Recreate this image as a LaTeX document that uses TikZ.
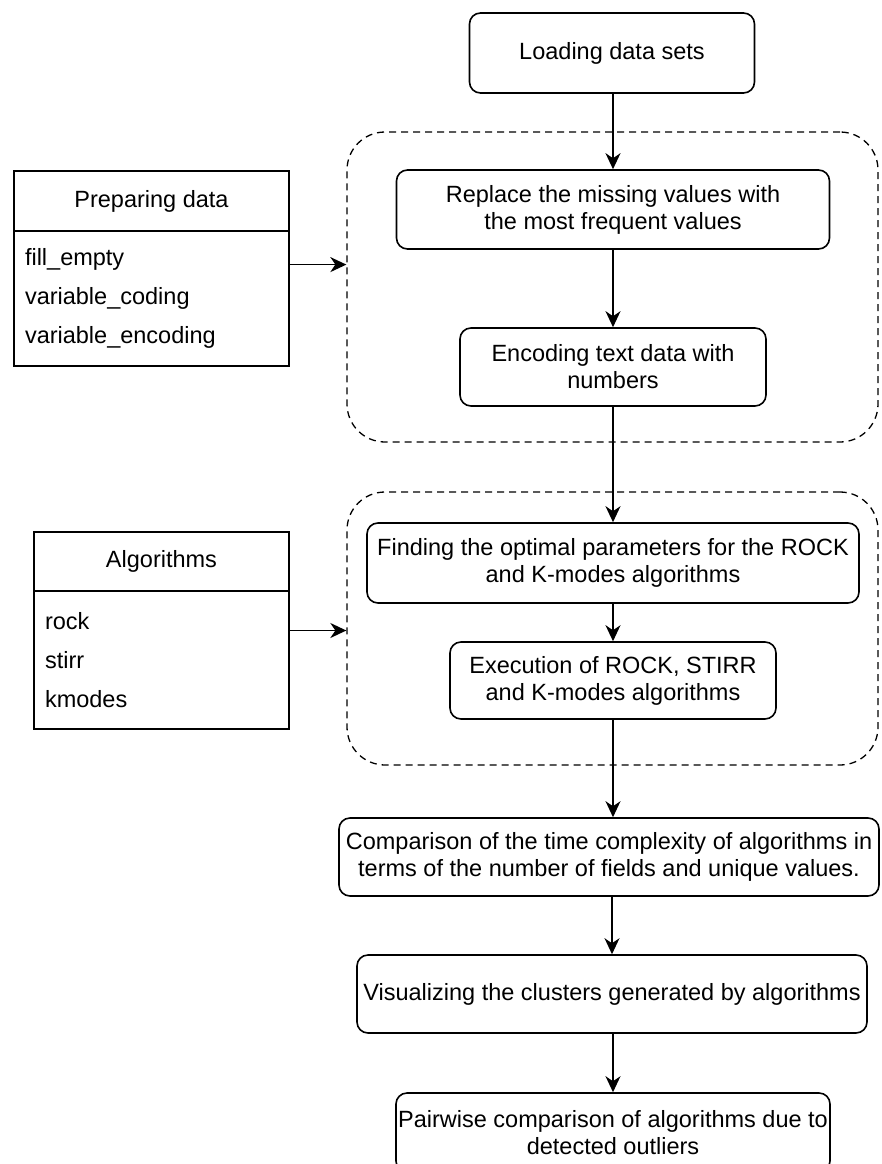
\documentclass[tikz,border=0pt]{standalone}
\usepackage{fontspec}
\setmainfont{Liberation Sans}
\usepackage{tikz}
\usetikzlibrary{arrows.meta,calc,positioning}
\tikzset{
  boxnode/.style = {align=center, inner sep=0pt, text centered, font=\fontsize{23.5}{27}\selectfont},
  proc/.style = {boxnode, rectangle, rounded corners=11pt, draw=black, line width=1.6pt},
  grp/.style = {rectangle, rounded corners=38pt, draw=black, dash pattern=on 7pt off 5pt, line width=1.3pt},
  cls_head/.style = {boxnode, rectangle, draw=black, line width=1.6pt, outer sep=0pt},
  cls_body/.style = {rectangle, draw=black, line width=1.6pt, outer sep=0pt, align=left, inner xsep=11pt, inner ysep=0pt, font=\fontsize{23.5}{39}\selectfont},
  arr/.style = {-{Stealth[length=16pt, width=15pt, inset=5pt]}, line width=1.6pt},
}

\begin{document}
\begin{tikzpicture}[x=1pt, y=-1pt]
  \useasboundingbox (0,0) rectangle (881,1164);

  \node [grp, minimum width=531pt, minimum height=310pt] (grp_prep) at (612.5,287) {};
  \node [grp, minimum width=531pt, minimum height=273pt] (grp_algo) at (612.5,628.5) {};

  \node [proc, minimum width=285pt, minimum height=80pt] (load) at (612,53) {Loading data sets};
  \node [proc, minimum width=433pt, minimum height=79pt] (replace) at (613,209.5) {Replace the missing values with\\the most frequent values};
  \node [proc, minimum width=306pt, minimum height=78pt] (encode) at (613,367) {Encoding text data with\\numbers};
  \node [proc, minimum width=492pt, minimum height=80pt] (params) at (613,563) {Finding the optimal parameters for the ROCK\\and K-modes algorithms};
  \node [proc, minimum width=326pt, minimum height=77pt] (exec) at (613,680.5) {Execution of ROCK, STIRR\\and K-modes algorithms};
  \node [proc, minimum width=540pt, minimum height=78pt] (compare) at (609,857) {Comparison of the time complexity of algorithms in\\terms of the number of fields and unique values.};
  \node [proc, minimum width=510pt, minimum height=78pt] (visual) at (612,994) {Visualizing the clusters generated by algorithms};
  \node [proc, minimum width=434pt, minimum height=79pt] (pairwise) at (613,1132.5) {Pairwise comparison of algorithms due to\\detected outliers};

  \node [cls_head, minimum width=275pt, minimum height=60pt] (prep_head) at (151.5,201) {Preparing data};
  \node [cls_body, text width=253pt, minimum height=135pt, below=0pt of prep_head] (prep_body) {fill\_empty\\variable\_coding\\variable\_encoding};
  \node [cls_head, minimum width=255pt, minimum height=59pt] (algo_head) at (161.5,561.5) {Algorithms};
  \node [cls_body, text width=233pt, minimum height=138pt, below=0pt of algo_head] (algo_body) {rock\\stirr\\kmodes};

  \coordinate (prep_out) at ($(prep_head.north east)!0.48!(prep_body.south east)$);
  \coordinate (algo_out) at ($(algo_head.north east)!0.5!(algo_body.south east)$);

  \draw [arr] (load.south -| replace.north) -- (replace.north);
  \draw [arr] (replace) -- (encode);
  \draw [arr] (encode) -- (params);
  \draw [arr] (params) -- (exec);
  \draw [arr] (exec.south) -- (exec.south |- compare.north);
  \draw [arr] (compare.south -| visual.north) -- (visual.north);
  \draw [arr] (visual.south -| pairwise.north) -- (pairwise.north);
  \draw [arr] (prep_out) -- (prep_out -| grp_prep.west);
  \draw [arr] (algo_out) -- (algo_out -| grp_algo.west);
\end{tikzpicture}
\end{document}
